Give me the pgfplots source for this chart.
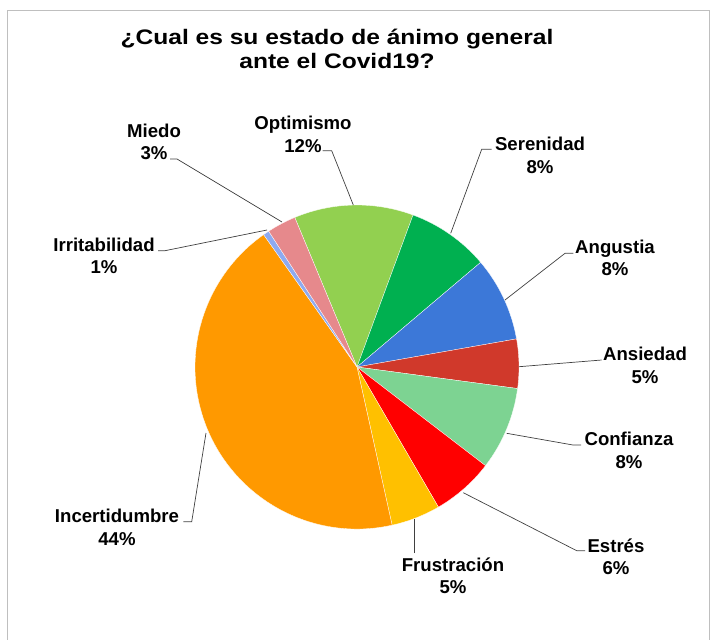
\documentclass[border=0pt]{standalone}
\usepackage{pgfplots}
\pgfplotsset{compat=1.18}
\usepackage{pgfplotstable}
\usepackage{fontspec}
\setmainfont{Liberation Sans}
\usepackage{graphicx}

\definecolor{cOpt}{HTML}{92D050}
\definecolor{cSer}{HTML}{00B050}
\definecolor{cAng}{HTML}{3C78D8}
\definecolor{cAns}{HTML}{D0392B}
\definecolor{cCon}{HTML}{7DD392}
\definecolor{cEst}{HTML}{FF0000}
\definecolor{cFru}{HTML}{FFC000}
\definecolor{cInc}{HTML}{FF9900}
\definecolor{cIrr}{HTML}{8EAAF0}
\definecolor{cMie}{HTML}{E6898C}
\definecolor{leader}{HTML}{404040}

% share of answers (%), clockwise from Optimismo
\pgfplotstableread{
value col
11.9 cOpt
8.2  cSer
8.4  cAng
4.9  cAns
8.3  cCon
6.2  cEst
4.9  cFru
43.7 cInc
0.6  cIrr
2.9  cMie
}\piedata

\newcommand\lbl{\bfseries\fontsize{18.6}{22.5}\selectfont}
\newcommand\ttl{\bfseries\fontsize{21}{23.5}\selectfont}

\begin{document}
\begin{tikzpicture}
\begin{axis}[name=ax,
  scale only axis, width=715pt, height=640pt,
  xmin=0, xmax=715, ymin=0, ymax=640, y dir=reverse,
  hide axis, clip=false]

% frame
\draw[gray!50, line width=1pt] (axis cs:7,10) rectangle (axis cs:709,670);

% slices
\gdef\angA{112.6}
\pgfplotsforeachungrouped \i in {0,...,9}{%
  \pgfplotstablegetelem{\i}{value}\of\piedata \let\sliceval\pgfplotsretval
  \pgfplotstablegetelem{\i}{col}\of\piedata \let\slicecol\pgfplotsretval
  \pgfmathsetmacro\angB{\angA-3.6*\sliceval}%
  \edef\temp{\noexpand\fill[\slicecol, draw=white, line width=0.3pt]
    (axis cs:357,367) -- ++(\angA:162pt)
    arc[start angle=\angA, end angle=\angB, radius=162pt] -- cycle;}%
  \temp
  \global\let\angA\angB
}

% leader lines
\begin{scope}[leader, line width=0.7pt]
\draw (axis cs:170,159) -- (axis cs:177,159) -- (axis cs:282,222);
\draw (axis cs:158,250.7) -- (axis cs:165,250.7) -- (axis cs:267,230);
\draw (axis cs:322.7,150.7) -- (axis cs:331.7,150.7) -- (axis cs:353.3,205);
\draw (axis cs:491.7,149.3) -- (axis cs:481.7,149.3) -- (axis cs:450.7,233.3);
\draw (axis cs:573.3,253.3) -- (axis cs:565,253.3) -- (axis cs:505,300);
\draw (axis cs:601.7,360) -- (axis cs:519,366.7);
\draw (axis cs:581,445) -- (axis cs:573,445) -- (axis cs:506.7,433.3);
\draw (axis cs:585,550.7) -- (axis cs:576.7,550.7) -- (axis cs:463.3,492.7);
\draw (axis cs:414.3,553) -- (axis cs:414.3,519);
\draw (axis cs:183.3,521.7) -- (axis cs:191.7,521.7) -- (axis cs:206,433);
\end{scope}

% labels
\begin{scope}[every node/.style={align=center, font=\lbl, inner sep=0pt}]
\node at (axis cs:154,142) {Miedo\\3\%};
\node at (axis cs:303,134.3) {Optimismo\\12\%};
\node at (axis cs:540,155.3) {Serenidad\\8\%};
\node at (axis cs:615,258) {Angustia\\8\%};
\node at (axis cs:645,365.3) {Ansiedad\\5\%};
\node at (axis cs:629,450.5) {Confianza\\8\%};
\node at (axis cs:616,556.7) {Estrés\\6\%};
\node at (axis cs:453,576) {Frustración\\5\%};
\node at (axis cs:117,527.5) {Incertidumbre\\44\%};
\node at (axis cs:104,256) {Irritabilidad\\1\%};
\end{scope}

% title
\node[align=center, font=\ttl, inner sep=0pt] at (axis cs:337,49)
  {\scalebox{1.17}[1]{¿Cual es su estado de ánimo general}\\
   \scalebox{1.17}[1]{ante el Covid19?}};
\end{axis}
\pgfresetboundingbox
\useasboundingbox (ax.south west) rectangle (ax.north east);
\end{tikzpicture}
\end{document}
